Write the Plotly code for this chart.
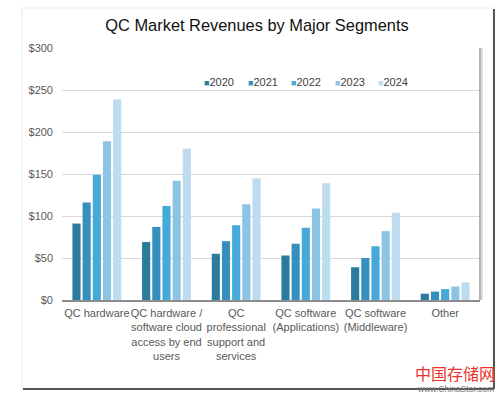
import plotly.graph_objects as go

categories = [
    "QC hardware",
    "QC hardware /<br>software cloud<br>access by end<br>users",
    "QC<br>professional<br>support and<br>services",
    "QC software<br>(Applications)",
    "QC software<br>(Middleware)",
    "Other",
]
years = ["2020", "2021", "2022", "2023", "2024"]
rev_2020 = [91, 69, 55, 53, 39, 7.5]
rev_2021 = [116, 87, 70, 67, 50, 10]
rev_2022 = [149, 112, 89, 86, 64, 13]
rev_2023 = [189, 142, 114, 109, 82, 16]
rev_2024 = [239, 180, 145, 139, 104, 21]
series = [rev_2020, rev_2021, rev_2022, rev_2023, rev_2024]
colors = ["#2b7b9e", "#3590bd", "#45a9d9", "#8dc3e3", "#bddcf0"]
y_ticks = [0, 50, 100, 150, 200, 250, 300]
y_tick_labels = [f"${v}" for v in y_ticks]

W, H = 500, 395
L, R, T, B = 62, 20, 48, 95
pw, ph = W - L - R, H - T - B

def px_x(px):
    return (px - L) / pw

def px_y(py):
    return (H - B - py) / ph

fig = go.Figure()
for yr, vals, col in zip(years, series, colors):
    fig.add_trace(go.Bar(x=categories, y=vals, name=yr, marker=dict(color=col, line=dict(width=0)),
                         showlegend=False, hoverinfo="skip"))

font_family = "Liberation Sans, Arial, sans-serif"
annotations = []
# legend as text key
leg_x0 = 202
for i, (yr, col) in enumerate(zip(years, colors)):
    annotations.append(dict(
        x=px_x(leg_x0 + i * 43.6), y=px_y(82), xref="paper", yref="paper",
        xanchor="left", yanchor="middle", showarrow=False,
        text=f'<span style="color:{col};font-size:9px">■</span>{yr}',
        font=dict(family=font_family, size=11, color="#404040"),
    ))
# watermark
annotations.append(dict(x=px_x(497), y=px_y(373), xref="paper", yref="paper", xanchor="right",
                        yanchor="middle", showarrow=False, text="中国存储网",
                        font=dict(family="Noto Sans CJK SC", size=16, color="#e8322c")))
annotations.append(dict(x=px_x(496), y=px_y(389), xref="paper", yref="paper", xanchor="right",
                        yanchor="middle", showarrow=False, text="www.ChinaStor.com",
                        font=dict(family=font_family, size=8.5, color="#777777")))

shapes = [
    # panel
    dict(type="rect", xref="paper", yref="paper", x0=px_x(22), x1=px_x(493), y0=px_y(389), y1=px_y(8),
         line=dict(color="#ececec", width=1), fillcolor="rgba(0,0,0,0)", layer="below"),
    dict(type="line", xref="paper", yref="paper", x0=px_x(494), x1=px_x(494), y0=px_y(389), y1=px_y(9),
         line=dict(color="#555555", width=2)),
    dict(type="line", xref="paper", yref="paper", x0=px_x(23), x1=px_x(494), y0=px_y(389), y1=px_y(389),
         line=dict(color="#555555", width=2)),
    # plot area right border
    dict(type="line", xref="paper", yref="paper", x0=1, x1=1, y0=0, y1=1,
         line=dict(color="#9a9a9a", width=1.5)),
    dict(type="line", xref="paper", yref="paper", x0=px_x(482), x1=px_x(482), y0=0, y1=1,
         line=dict(color="#dddddd", width=2)),
]

fig.update_layout(
    width=W, height=H,
    margin=dict(l=L, r=R, t=T, b=B),
    paper_bgcolor="white", plot_bgcolor="white",
    barmode="group", bargap=0.27, bargroupgap=0.2,
    font=dict(family=font_family, size=11, color="#595959"),
    title=dict(text="QC Market Revenues by Major Segments", x=257 / W, xanchor="center",
               y=1 - 25 / H, yanchor="middle", yref="container",
               font=dict(family=font_family, size=16.4, color="#111111")),
    xaxis=dict(showgrid=False, showline=True, linecolor="#8c8c8c", linewidth=1.5,
               tickfont=dict(size=11, color="#595959"), ticks="", tickangle=0,
               ticklabelstandoff=2),
    yaxis=dict(range=[0, 300], tickvals=y_ticks, ticktext=y_tick_labels, showgrid=True,
               gridcolor="#d9d9d9", gridwidth=1, zeroline=False, showline=False,
               ticklabelstandoff=8, tickfont=dict(size=11, color="#595959")),
    annotations=annotations, shapes=shapes,
)

fig.write_html(
    "out.html",
    config={"displayModeBar": False},
    post_script="document.body.style.margin='0';document.body.style.overflow='hidden';",
)
